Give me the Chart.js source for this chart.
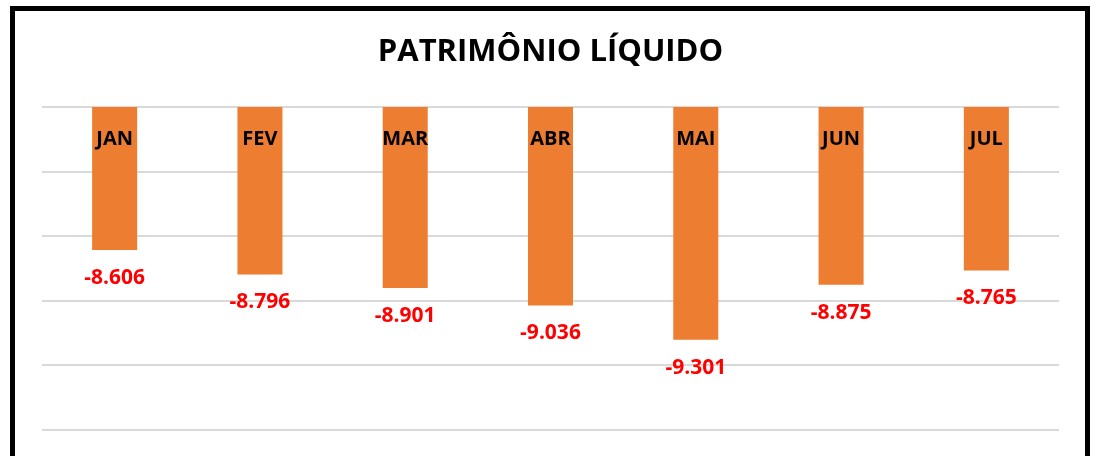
<!DOCTYPE html>
<html>
<head>
<meta charset="utf-8">
<script src="https://cdn.jsdelivr.net/npm/chart.js@4"></script>
<style>
    html, body { margin: 0; padding: 0; background: #fff; overflow: hidden; }
    #frame {
        position: absolute; left: 10px; top: 6px;
        width: 1070px; height: 460px;
        border: 5px solid #000;
    }
    #wrap { position: relative; width: 1070px; height: 450px; }
</style>
</head>
<body>
<div id="frame"><div id="wrap"><canvas id="chart"></canvas></div></div>
<script>
const months = ['JAN', 'FEV', 'MAR', 'ABR', 'MAI', 'JUN', 'JUL'];
const values = [-8.606, -8.796, -8.901, -9.036, -9.301, -8.875, -8.765];
const valueLabels = ['-8.606', '-8.796', '-8.901', '-9.036', '-9.301', '-8.875', '-8.765'];

const FONT = '"Open Sans", sans-serif';

// draws month names inside the bars and red values under them
const labelPlugin = {
    id: 'barLabels',
    afterDatasetsDraw(chart) {
        const ctx = chart.ctx;
        const meta = chart.getDatasetMeta(0);
        const top = chart.chartArea.top;
        ctx.save();
        ctx.textAlign = 'center';
        ctx.textBaseline = 'middle';
        meta.data.forEach((bar, i) => {
            ctx.fillStyle = '#000';
            ctx.font = 'bold 20px ' + FONT;
            ctx.fillText(months[i], bar.x, top + 32);
            ctx.fillStyle = '#FF0000';
            ctx.font = 'bold 21px ' + FONT;
            ctx.fillText(valueLabels[i], bar.x, bar.y + 28);
        });
        ctx.restore();
    }
};

new Chart(document.getElementById('chart'), {
    type: 'bar',
    data: {
        labels: months,
        datasets: [{
            data: values,
            backgroundColor: '#ED7D31',
            barPercentage: 1,
            categoryPercentage: 0.31
        }]
    },
    options: {
        responsive: true,
        maintainAspectRatio: false,
        animation: false,
        layout: { padding: { left: 27, right: 26, top: 0, bottom: 31 } },
        plugins: {
            legend: { display: false },
            tooltip: { enabled: false },
            title: {
                display: true,
                text: 'PATRIMÔNIO LÍQUIDO',
                color: '#000',
                font: { family: FONT, size: 31, weight: 'bold', lineHeight: 1.2 },
                padding: { top: 22.4, bottom: 36.4 }
            }
        },
        scales: {
            x: { display: false },
            y: {
                min: -10,
                max: -7.5,
                ticks: { display: false, stepSize: 0.5 },
                border: { display: false },
                grid: { color: '#D9D9D9', lineWidth: 2, drawTicks: false },
                afterFit: s => { s.width = 0; }
            }
        }
    },
    plugins: [labelPlugin]
});
</script>
</body>
</html>
